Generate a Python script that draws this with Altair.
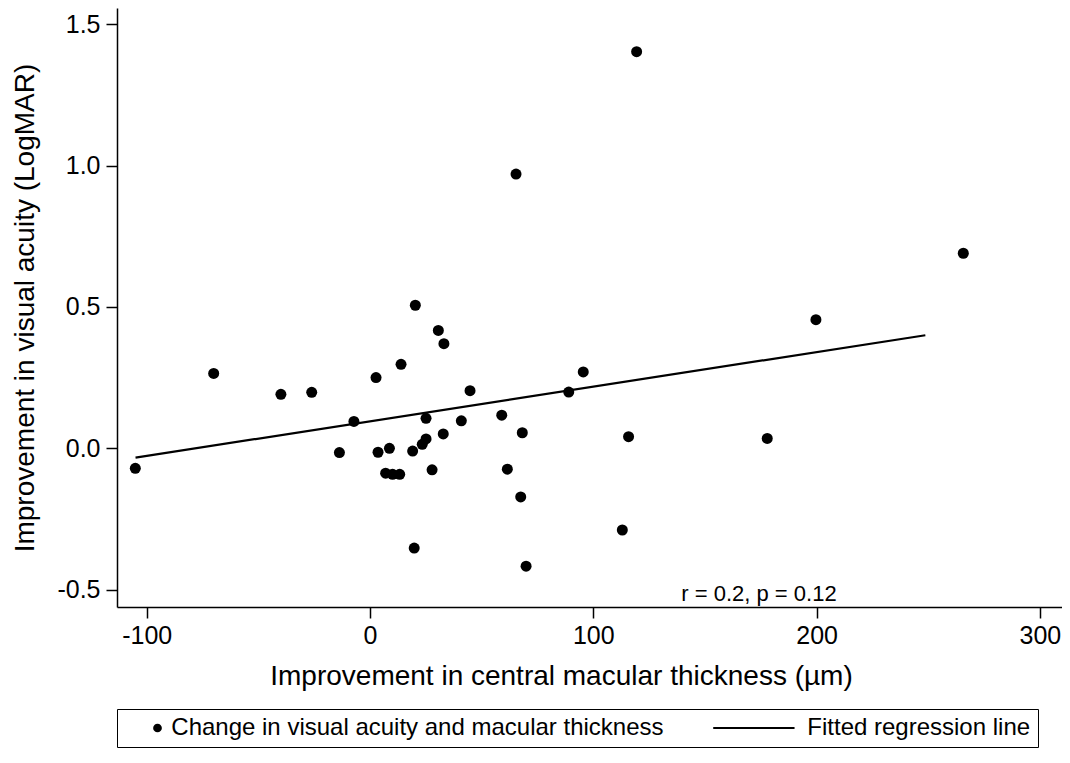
import altair as alt
import pandas as pd

# ---- data ----
cmt_change = [-105.1, -70.0, -39.9, -26.1, -13.7, -7.2, 2.7, 3.6, 7.0, 8.7,
              10.1, 13.3, 13.9, 19.1, 19.8, 20.3, 23.4, 25.1, 25.1, 27.8,
              30.6, 32.8, 33.1, 40.9, 44.8, 59.0, 61.5, 65.4, 67.5, 68.2,
              69.9, 89.0, 95.5, 113.0, 115.8, 119.4, 177.9, 199.7, 265.7]
va_change = [-0.071, 0.265, 0.191, 0.198, -0.015, 0.095, 0.250, -0.014, -0.088, 0.000,
             -0.092, -0.092, 0.297, -0.010, -0.353, 0.506, 0.014, 0.106, 0.033, -0.076,
             0.417, 0.051, 0.370, 0.097, 0.204, 0.117, -0.074, 0.970, -0.172, 0.055,
             -0.417, 0.199, 0.270, -0.289, 0.041, 1.403, 0.035, 0.455, 0.690]
fit_x = [-105.0, 248.7]
fit_y = [-0.033, 0.400]
note_x = [174.2]
note_y = [-0.539]
note_text = ["r = 0.2, p = 0.12"]
x_ticks = [-100, 0, 100, 200, 300]
y_ticks = [-0.5, 0.0, 0.5, 1.0, 1.5]
series_names = ["Change in visual acuity and macular thickness", "Fitted regression line"]

FONT = "Liberation Sans"

pts = pd.DataFrame({"cmt": cmt_change, "va": va_change, "series": series_names[0]})
fit = pd.DataFrame({"cmt": fit_x, "va": fit_y})
note = pd.DataFrame({"cmt": note_x, "va": note_y, "label": note_text})

x_scale = alt.Scale(domain=[-113.3, 309.9], nice=False, zero=False)
y_scale = alt.Scale(domain=[-0.5614, 1.5575], nice=False, zero=False)

x_enc = alt.X("cmt:Q", scale=x_scale, axis=alt.Axis(
    title="Improvement in central macular thickness (µm)",
    values=x_ticks,
    labelExpr="(datum.value < 0 ? '-' : '') + format(abs(datum.value), 'd')",
    titlePadding=14, labelPadding=5, titleX=444, titleAlign="center"))
y_enc = alt.Y("va:Q", scale=y_scale, axis=alt.Axis(
    title="Improvement in visual acuity (LogMAR)",
    values=y_ticks,
    labelExpr="(datum.value < 0 ? '-' : '') + format(abs(datum.value), '.1f')",
    titlePadding=17, labelPadding=6))

# legend glyph for the fitted line: a thin filled bar ending just left of the label
line_glyph = "M-18.42,-0.24H0.24V0.24H-18.42Z"

legend = alt.Legend(
    title="\u00a0", titleOrient="left", titleFontSize=1, titlePadding=21.5,
    orient="none", legendX=0, legendY=701, direction="horizontal",
    padding=7, strokeColor="black", fillColor="white", cornerRadius=0,
    columnPadding=48, labelOffset=1.8, labelLimit=1000,
    labelFont=FONT, labelFontSize=24, labelColor="black",
    symbolSize=76, symbolFillColor="black", symbolStrokeWidth=0)

points = alt.Chart(pts).mark_point(filled=True, size=121, opacity=1, color="black").encode(
    x=x_enc, y=y_enc,
    shape=alt.Shape("series:N", scale=alt.Scale(domain=series_names,
                                                 range=["circle", line_glyph]),
                    legend=legend))

line = alt.Chart(fit).mark_line(color="black", strokeWidth=2.2).encode(
    x=alt.X("cmt:Q", scale=x_scale), y=alt.Y("va:Q", scale=y_scale))

text = alt.Chart(note).mark_text(font=FONT, fontSize=22, align="center",
                                 baseline="alphabetic", color="black").encode(
    x=alt.X("cmt:Q", scale=x_scale), y=alt.Y("va:Q", scale=y_scale), text="label:N")

chart = alt.layer(line, points, text).properties(
    width=945, height=599, autosize="none",
    padding={"left": 109, "top": 0, "right": 0, "bottom": 141},
    background="white"
).configure_view(stroke=None).configure_axis(
    grid=False, domainColor="black", domainWidth=1.5, tickColor="black", tickWidth=1.5,
    tickSize=11, labelColor="black", titleColor="black", labelFont=FONT, titleFont=FONT,
    labelFontSize=25, titleFontSize=28, titleFontWeight="normal")

chart.save("out.html", embed_options={"renderer": "svg", "actions": False})
